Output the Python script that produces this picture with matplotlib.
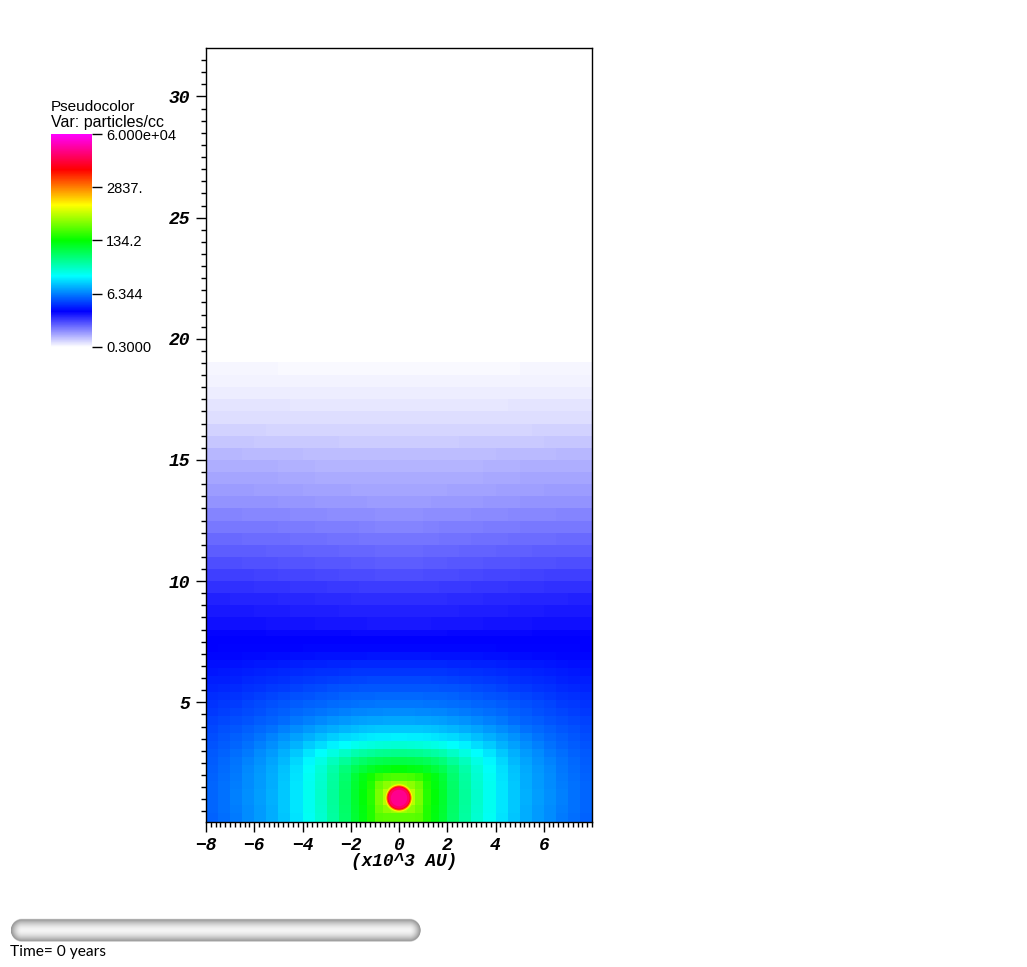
import numpy as np
import matplotlib
matplotlib.use("Agg")
import matplotlib.pyplot as plt
from matplotlib.colors import LinearSegmentedColormap, LogNorm
from matplotlib.cm import ScalarMappable
from matplotlib.patches import Circle
from matplotlib.ticker import FixedLocator, NullLocator

W, H = 1027, 967

# Colour-scale position (per mille, 0 = 0.3, 1000 = 6e4).
# Columns go from x = 0 outwards; the field is mirrored about x = 0.
x_edges = [0, .33, .67, 1, 1.33, 1.67, 2, 2.5, 3, 3.5, 4, 4.5, 5, 5.5, 6, 6.5, 7, 7.5, 8]
y_edges = [.08, .42, .75, 1.08, 1.42, 1.75, 2.08, 2.42, 2.75, 3.08, 3.42, 3.75, 4.08, 4.42, 4.75,
           5.08, 5.42, 5.75, 6.08, 6.42, 6.75, 7.08, 7.42, 7.75, 8.0, 8.5, 9, 9.5, 10, 10.5, 11,
           11.5, 12, 12.5, 13, 13.5, 14, 14.5, 15, 15.5, 16, 16.5, 17, 17.5, 18, 18.5, 19.05]
field = [
    [560,560,555,520,490,465,430,395,365,340,315,295,280,268,258,248,240,232],
    [600,590,570,520,492,467,432,397,367,342,317,297,281,269,259,249,241,233],
    [640,620,580,525,495,470,434,399,368,343,318,298,282,270,260,250,242,233],
    [640,620,580,525,495,470,434,399,368,343,318,298,282,270,260,250,242,233],
    [600,590,570,520,492,467,432,397,367,342,317,297,281,269,259,249,241,233],
    [550,545,535,510,488,463,428,395,365,340,316,296,280,268,258,248,240,232],
    [495,490,485,475,462,447,420,390,360,336,313,293,278,266,256,246,238,230],
    [455,452,448,442,432,420,400,375,350,330,307,288,274,263,253,243,235,228],
    [410,408,405,400,393,385,370,352,335,318,298,282,268,258,248,239,232,225],
    [362,361,359,355,350,344,335,325,312,300,285,272,260,251,242,234,228,221],
    [325,324,323,321,318,314,309,301,292,283,272,262,252,244,236,229,223,218],
    [298,297,297,295,293,290,286,280,274,267,258,250,242,236,230,224,219,214],
    [276,276,275,274,272,270,267,262,257,251,245,238,232,227,222,217,213,209],
    [258,258,257,256,255,254,251,248,244,240,235,230,225,220,216,212,208,205],
    [245,245,245,244,243,242,240,237,234,231,227,223,219,215,211,207,204,201],
    [235,235,235,234,234,233,231,228,225,222,219,215,211,208,204,201,198,196],
    [224,224,224,224,223,222,221,219,216,213,210,207,204,201,198,195,193,191],
    [213,213,213,213,212,212,210,208,206,204,202,199,197,194,192,189,187,186],
    [203,203,203,203,202,202,201,199,198,196,194,192,190,188,186,184,182,181],
    [193,193,193,193,192,192,191,190,189,188,186,185,183,182,180,178,177,176],
    [180,180,180,180,179,179,179,178,178,177,176,175,174,173,172,171,170,170],
    [171,171,171,171,171,171,170,170,170,170,169,169,169,168,168,168,168,167],
    [167,167,167,167,167,167,167,167,167,167,167,167,167,167,167,167,167,167],
    [162,162,162,162,162,162,163,163,163,163,164,164,164,165,165,165,166,166],
    [152,152,152,152,153,153,153,154,154,155,155,156,156,157,157,157,158,158],
    [145,145,145,145,146,146,146,147,147,148,148,149,150,150,151,151,152,152],
    [137,137,137,137,138,138,139,139,140,141,141,142,143,143,144,144,145,145],
    [127,127,127,128,128,129,129,130,131,132,132,133,134,134,135,135,136,136],
    [117,117,117,118,118,119,119,120,121,122,123,123,124,124,125,125,126,126],
    [107,107,107,108,108,109,110,110,111,112,113,113,114,115,115,116,116,116],
    [ 99, 99, 99,100,100,100,101,102,102,103,104,104,105,106,106,107,107,107],
    [ 90, 90, 90, 91, 91, 92, 92, 93, 94, 94, 95, 96, 96, 97, 97, 98, 98, 98],
    [ 82, 82, 82, 83, 83, 84, 84, 85, 85, 86, 87, 87, 88, 88, 89, 89, 89, 89],
    [ 74, 74, 74, 75, 75, 75, 76, 76, 77, 78, 78, 79, 80, 80, 80, 81, 81, 81],
    [ 66, 66, 66, 66, 67, 67, 67, 68, 68, 69, 70, 70, 71, 71, 71, 72, 72, 72],
    [ 60, 60, 60, 60, 60, 60, 61, 61, 62, 62, 63, 64, 64, 64, 65, 65, 65, 65],
    [ 55, 55, 55, 55, 55, 55, 55, 56, 56, 57, 57, 58, 59, 59, 59, 60, 60, 60],
    [ 49, 49, 49, 49, 49, 49, 50, 50, 50, 51, 51, 52, 53, 53, 53, 54, 54, 54],
    [ 43, 43, 43, 43, 43, 43, 43, 44, 44, 44, 45, 45, 46, 46, 46, 47, 47, 47],
    [ 35, 35, 35, 35, 35, 35, 35, 36, 36, 36, 37, 37, 37, 37, 38, 38, 38, 38],
    [ 28, 28, 28, 28, 28, 28, 28, 28, 29, 29, 29, 29, 29, 30, 30, 30, 30, 30],
    [ 22, 22, 22, 22, 22, 22, 22, 22, 22, 22, 22, 23, 23, 23, 23, 23, 23, 23],
    [ 17, 17, 17, 17, 17, 17, 17, 17, 17, 17, 17, 18, 18, 18, 18, 18, 18, 18],
    [ 12, 12, 12, 12, 12, 12, 12, 12, 12, 12, 13, 13, 13, 13, 13, 13, 13, 13],
    [  9,  9,  9,  9,  9,  9,  9,  9,  9,  9,  9,  9,  9,  9,  9,  9,  9,  9],
    [  5,  5,  5,  5,  5,  5,  5,  5,  5,  5,  5,  5,  6,  6,  6,  6,  6,  6],
]

source_x = 0.0
source_y = 1.05
source_radii = [.60, .56, .52, .48, .44, .34]
source_levels = [620, 667, 760, 840, 895, 925]

cbar_values = [0.3, 6.344, 134.2, 2837.0, 6.0e4]
cbar_labels = ["0.3000", "6.344", "134.2", "2837.", "6.000e+04"]
x_ticks = [-8, -6, -4, -2, 0, 2, 4, 6]
x_tick_labels = ["\u22128", "\u22126", "\u22124", "\u22122", "0", "2", "4", "6"]
y_ticks = [5, 10, 15, 20, 25, 30]
x_label = "(x10^3 AU)"
time_label = "Time= 0 years"

VMIN, VMAX = cbar_values[0], cbar_values[-1]
cmap = LinearSegmentedColormap.from_list(
    "visit_hot", ["#ffffff", "#0000ff", "#00ffff", "#00ff00", "#ffff00", "#ff0000", "#ff00ff"], N=512)
norm = LogNorm(VMIN, VMAX)


def to_density(per_mille):
    return VMIN * (VMAX / VMIN) ** (np.asarray(per_mille, float) / 1000.0)


def box(left, top, right, bottom):
    return [left / W, 1 - bottom / H, (right - left) / W, (bottom - top) / H]


fig = plt.figure(figsize=(W / 100, H / 100), dpi=100, facecolor="white")

# main plot
ax = fig.add_axes(box(206, 48, 592, 821.5))
half = np.array(field, float)
full = np.hstack([half[:, ::-1], half])
xe = np.array(x_edges)
xfull = np.concatenate([-xe[::-1], xe[1:]])
ax.pcolormesh(xfull, y_edges, to_density(full), cmap=cmap, norm=norm, shading="flat", linewidth=0, rasterized=True)
for r, lev in zip(source_radii, source_levels):
    ax.add_patch(Circle((source_x, source_y), r, color=cmap(lev / 1000.0), lw=0, zorder=3))
ax.set_xlim(-8, 8)
ax.set_ylim(0.08, 32)
ax.xaxis.set_major_locator(FixedLocator(x_ticks))
ax.set_xticklabels(x_tick_labels)
ax.xaxis.set_minor_locator(FixedLocator(np.arange(-8, 8.01, 0.2)))
ax.yaxis.set_major_locator(FixedLocator(y_ticks))
ax.yaxis.set_minor_locator(FixedLocator(np.arange(0.5, 32, 0.5)))
mono = dict(family="Liberation Mono", weight="bold", style="italic")
ax.tick_params(which="major", direction="out", length=7.2, width=1, pad=4, color="black")
ax.tick_params(which="minor", direction="out", length=3.4, width=1, color="black")
for lab in ax.get_xticklabels() + ax.get_yticklabels():
    lab.set(fontsize=13, **mono)
for s in ax.spines.values():
    s.set_linewidth(1)
fig.text(404 / W, 1 - 861.5 / H, x_label, ha="center", va="center", fontsize=12.8, **mono)

# colour bar
cax = fig.add_axes(box(51, 134, 92, 347))
cb = fig.colorbar(ScalarMappable(norm=norm, cmap=cmap), cax=cax)
cb.outline.set_visible(False)
cax.yaxis.set_major_locator(FixedLocator(cbar_values))
cax.yaxis.set_minor_locator(NullLocator())
cax.set_yticklabels(cbar_labels)
cax.tick_params(which="major", direction="out", length=7, width=1, pad=3, labelsize=10.5, color="black")
cax.spines["right"].set_visible(False)
for lab in cax.get_yticklabels():
    lab.set_family("Liberation Sans")
fig.text(51 / W, 1 - 107 / H, "Pseudocolor", ha="left", va="center", fontsize=11, family="Liberation Sans")
fig.text(51 / W, 1 - 122 / H, "Var: particles/cc", ha="left", va="center", fontsize=11.5, family="Liberation Sans")

# time slider decoration
sax = fig.add_axes([0, 0, 1, 1], zorder=-1)
sax.set_xlim(0, W)
sax.set_ylim(H, 0)
sax.axis("off")
px, py = np.meshgrid(np.arange(5, 426, 1.0), np.arange(914, 946, 0.5))
cy, rad = 930.0, 11.5
dx = np.maximum(np.maximum(21.5 - px, px - 409.0), 0)
dist = np.hypot(dx, py - cy)
shade = np.clip(dist / rad, 0, 1) ** 1.8
rgba = np.ones(px.shape + (4,))
rgba[..., :3] = (0.96 - 0.42 * shade)[..., None]
rgba[..., 3] = np.clip((rad - dist) / 0.7, 0, 1)
sax.imshow(rgba, extent=(5, 426, 946, 914), aspect="auto", interpolation="bilinear", zorder=1)
sax.set_xlim(0, W)
sax.set_ylim(H, 0)
sax.text(10, 952, time_label, ha="left", va="center", fontsize=11.2, family="Lato")

fig.savefig("out.png", dpi=100, facecolor="white")
